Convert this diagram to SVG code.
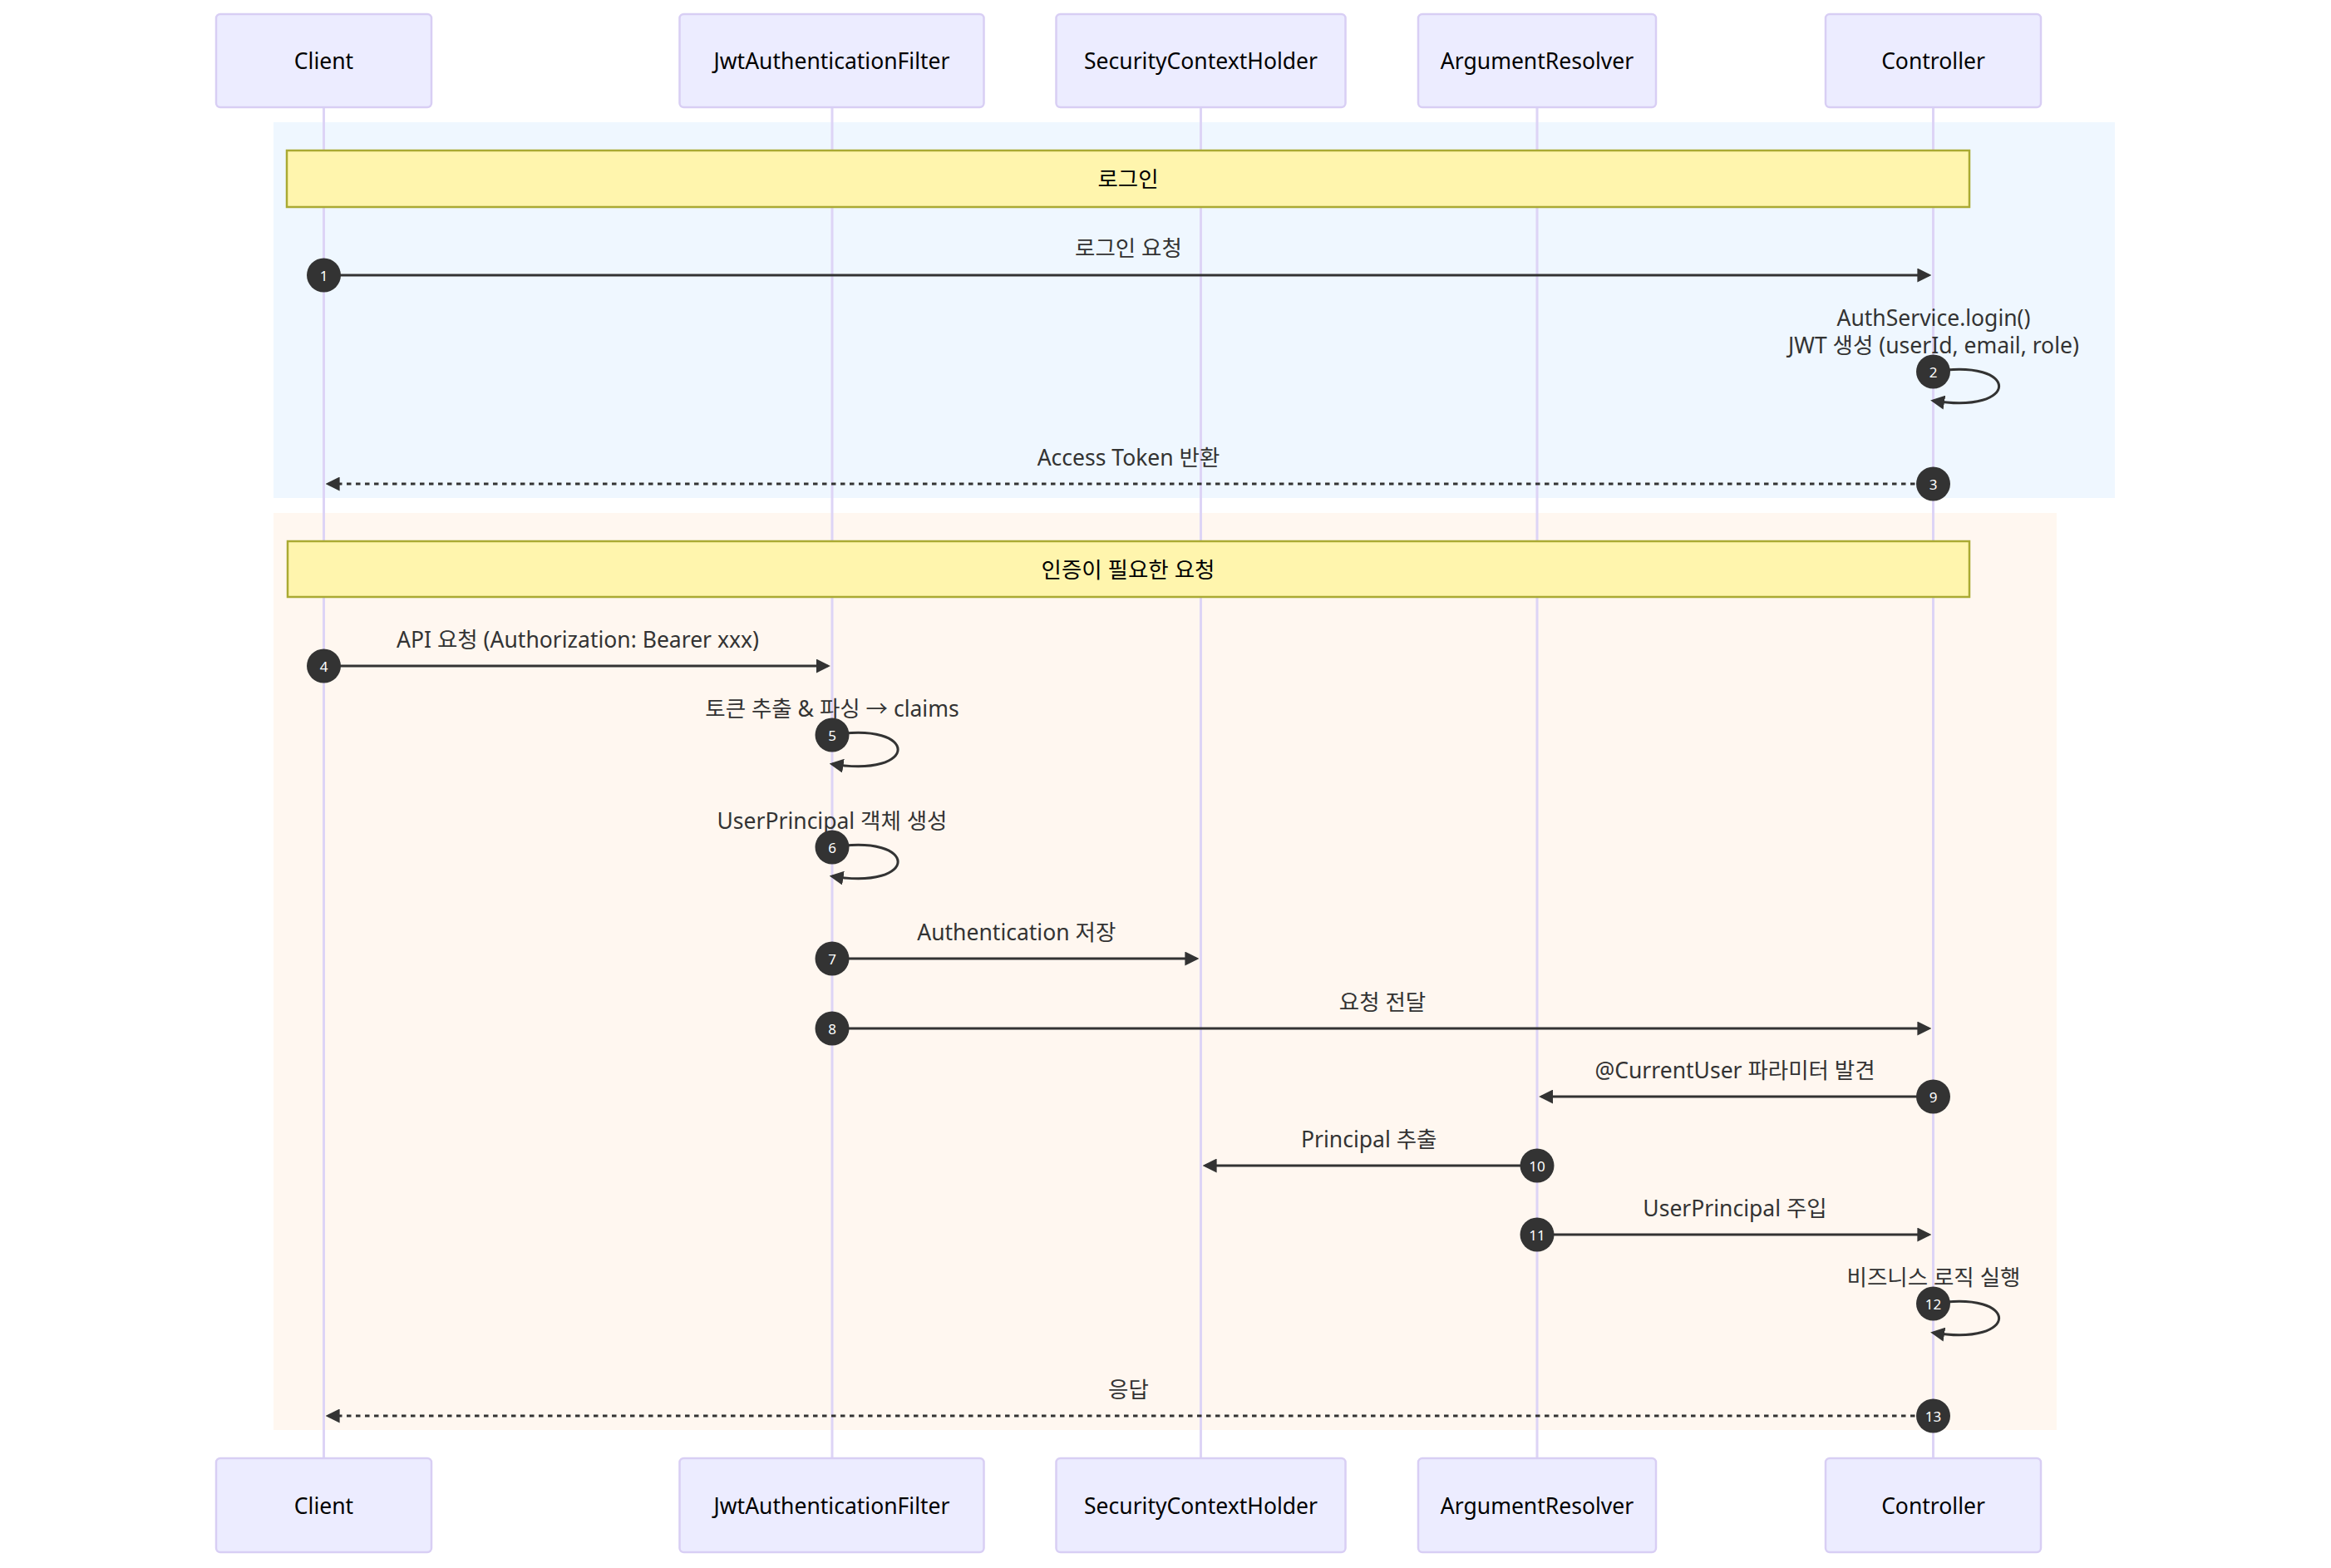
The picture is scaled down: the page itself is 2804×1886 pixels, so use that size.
<svg xmlns="http://www.w3.org/2000/svg" width="2804" height="1886" viewBox="0 0 2804 1886">
<defs>
<marker id="arrow" viewBox="0 0 10 10" refX="8" refY="5" markerWidth="17" markerHeight="17" markerUnits="userSpaceOnUse" orient="auto">
<path d="M0,0 L10,5 L0,10 z" fill="#333"/>
</marker>
<style>
.actor{fill:#ECECFF;stroke:#D8CEF4;stroke-width:2.5}
.lifeline{stroke:#DDD4F6;stroke-width:3}
.atext{font-family:"Noto Sans","Noto Sans CJK KR",sans-serif;font-size:26.5px;fill:#000;text-anchor:middle;dominant-baseline:central}
.note{fill:#FFF5AD;stroke:#AAAA33;stroke-width:2.5}
.ntext{font-family:"Noto Sans","Noto Sans CJK KR",sans-serif;font-size:26.5px;fill:#000;text-anchor:middle;dominant-baseline:central}
.msg{stroke:#333;stroke-width:3;fill:none}
.dot{stroke-dasharray:5.5,5.5}
.mtext{font-family:"Noto Sans","Noto Sans CJK KR",sans-serif;font-size:26.5px;fill:#333;text-anchor:middle}
.num{fill:#333}
.ntxt{font-family:"Noto Sans",sans-serif;font-size:17px;fill:#fff;text-anchor:middle;dominant-baseline:central}
</style>
</defs>
<rect width="2804" height="1886" fill="#fff"/>
<g id="blocks">
<rect x="329" y="147" width="2215" height="452" fill="rgb(239,247,255)"/>
<rect x="329" y="617" width="2145" height="1103" fill="rgb(255,247,240)"/>
</g>
<g id="lifelines">
<line class="lifeline" x1="389.5" y1="129" x2="389.5" y2="1754"/>
<line class="lifeline" x1="1001" y1="129" x2="1001" y2="1754"/>
<line class="lifeline" x1="1444.5" y1="129" x2="1444.5" y2="1754"/>
<line class="lifeline" x1="1849" y1="129" x2="1849" y2="1754"/>
<line class="lifeline" x1="2325.5" y1="129" x2="2325.5" y2="1754"/>
</g>
<g id="actor-client-top"><rect class="actor" x="260" y="17" width="259" height="112" rx="5"/><text class="atext" x="389.5" y="73">Client</text></g>
<g id="actor-jwt-top"><rect class="actor" x="817.5" y="17" width="366" height="112" rx="5"/><text class="atext" x="1000.5" y="73">JwtAuthenticationFilter</text></g>
<g id="actor-sch-top"><rect class="actor" x="1270.5" y="17" width="348" height="112" rx="5"/><text class="atext" x="1444.5" y="73">SecurityContextHolder</text></g>
<g id="actor-ar-top"><rect class="actor" x="1706" y="17" width="286" height="112" rx="5"/><text class="atext" x="1849" y="73">ArgumentResolver</text></g>
<g id="actor-ctrl-top"><rect class="actor" x="2196" y="17" width="259" height="112" rx="5"/><text class="atext" x="2325.5" y="73">Controller</text></g>
<g id="actor-client-bottom"><rect class="actor" x="260" y="1754" width="259" height="113" rx="5"/><text class="atext" x="389.5" y="1811">Client</text></g>
<g id="actor-jwt-bottom"><rect class="actor" x="817.5" y="1754" width="366" height="113" rx="5"/><text class="atext" x="1000.5" y="1811">JwtAuthenticationFilter</text></g>
<g id="actor-sch-bottom"><rect class="actor" x="1270.5" y="1754" width="348" height="113" rx="5"/><text class="atext" x="1444.5" y="1811">SecurityContextHolder</text></g>
<g id="actor-ar-bottom"><rect class="actor" x="1706" y="1754" width="286" height="113" rx="5"/><text class="atext" x="1849" y="1811">ArgumentResolver</text></g>
<g id="actor-ctrl-bottom"><rect class="actor" x="2196" y="1754" width="259" height="113" rx="5"/><text class="atext" x="2325.5" y="1811">Controller</text></g>
<g id="note-login"><rect class="note" x="345" y="181" width="2024" height="68"/><text class="ntext" x="1357" y="215">로그인</text></g>
<g id="note-auth"><rect class="note" x="346" y="651" width="2023" height="67"/><text class="ntext" x="1357" y="684.5">인증이 필요한 요청</text></g>
<g id="connectors">
<line class="msg" x1="389.5" y1="331" x2="2320" y2="331" marker-end="url(#arrow)"/>
<path class="msg" d="M2325.5,447 C2431,430 2431,499 2325.5,482" marker-end="url(#arrow)"/>
<line class="msg dot" x1="2325.5" y1="582" x2="395" y2="582" marker-end="url(#arrow)"/>
<line class="msg" x1="389.5" y1="801" x2="995.5" y2="801" marker-end="url(#arrow)"/>
<path class="msg" d="M1001,884 C1106.5,867 1106.5,936 1001,919" marker-end="url(#arrow)"/>
<path class="msg" d="M1001,1019 C1106.5,1002 1106.5,1071 1001,1054" marker-end="url(#arrow)"/>
<line class="msg" x1="1001" y1="1153" x2="1439" y2="1153" marker-end="url(#arrow)"/>
<line class="msg" x1="1001" y1="1237" x2="2320" y2="1237" marker-end="url(#arrow)"/>
<line class="msg" x1="2325.5" y1="1319" x2="1854.5" y2="1319" marker-end="url(#arrow)"/>
<line class="msg" x1="1849" y1="1402" x2="1450" y2="1402" marker-end="url(#arrow)"/>
<line class="msg" x1="1849" y1="1485" x2="2320" y2="1485" marker-end="url(#arrow)"/>
<path class="msg" d="M2325.5,1568 C2431,1551 2431,1620 2325.5,1603" marker-end="url(#arrow)"/>
<line class="msg dot" x1="2325.5" y1="1703" x2="395" y2="1703" marker-end="url(#arrow)"/>
</g>
<g id="labels">
<text class="mtext" x="1357.5" y="308">로그인 요청</text>
<text class="mtext" x="2326" y="392">AuthService.login()</text>
<text class="mtext" x="2326" y="425">JWT 생성 (userId, email, role)</text>
<text class="mtext" x="1357.5" y="560">Access Token 반환</text>
<text class="mtext" x="695" y="779">API 요청 (Authorization: Bearer xxx)</text>
<text class="mtext" x="1001" y="862">토큰 추출 &amp; 파싱 → claims</text>
<text class="mtext" x="1001" y="997">UserPrincipal 객체 생성</text>
<text class="mtext" x="1222.75" y="1131">Authentication 저장</text>
<text class="mtext" x="1663" y="1215">요청 전달</text>
<text class="mtext" x="2087" y="1297">@CurrentUser 파라미터 발견</text>
<text class="mtext" x="1646.75" y="1380">Principal 추출</text>
<text class="mtext" x="2087" y="1463">UserPrincipal 주입</text>
<text class="mtext" x="2326" y="1546">비즈니스 로직 실행</text>
<text class="mtext" x="1357.5" y="1681">응답</text>
</g>
<g id="sequence-numbers">
<circle class="num" cx="389.5" cy="331" r="20.5"/><text class="ntxt" x="389.5" y="331">1</text>
<circle class="num" cx="2325.5" cy="447" r="20.5"/><text class="ntxt" x="2325.5" y="447">2</text>
<circle class="num" cx="2325.5" cy="582" r="20.5"/><text class="ntxt" x="2325.5" y="582">3</text>
<circle class="num" cx="389.5" cy="801" r="20.5"/><text class="ntxt" x="389.5" y="801">4</text>
<circle class="num" cx="1001" cy="884" r="20.5"/><text class="ntxt" x="1001" y="884">5</text>
<circle class="num" cx="1001" cy="1019" r="20.5"/><text class="ntxt" x="1001" y="1019">6</text>
<circle class="num" cx="1001" cy="1153" r="20.5"/><text class="ntxt" x="1001" y="1153">7</text>
<circle class="num" cx="1001" cy="1237" r="20.5"/><text class="ntxt" x="1001" y="1237">8</text>
<circle class="num" cx="2325.5" cy="1319" r="20.5"/><text class="ntxt" x="2325.5" y="1319">9</text>
<circle class="num" cx="1849" cy="1402" r="20.5"/><text class="ntxt" x="1849" y="1402">10</text>
<circle class="num" cx="1849" cy="1485" r="20.5"/><text class="ntxt" x="1849" y="1485">11</text>
<circle class="num" cx="2325.5" cy="1568" r="20.5"/><text class="ntxt" x="2325.5" y="1568">12</text>
<circle class="num" cx="2325.5" cy="1703" r="20.5"/><text class="ntxt" x="2325.5" y="1703">13</text>
</g>
</svg>
